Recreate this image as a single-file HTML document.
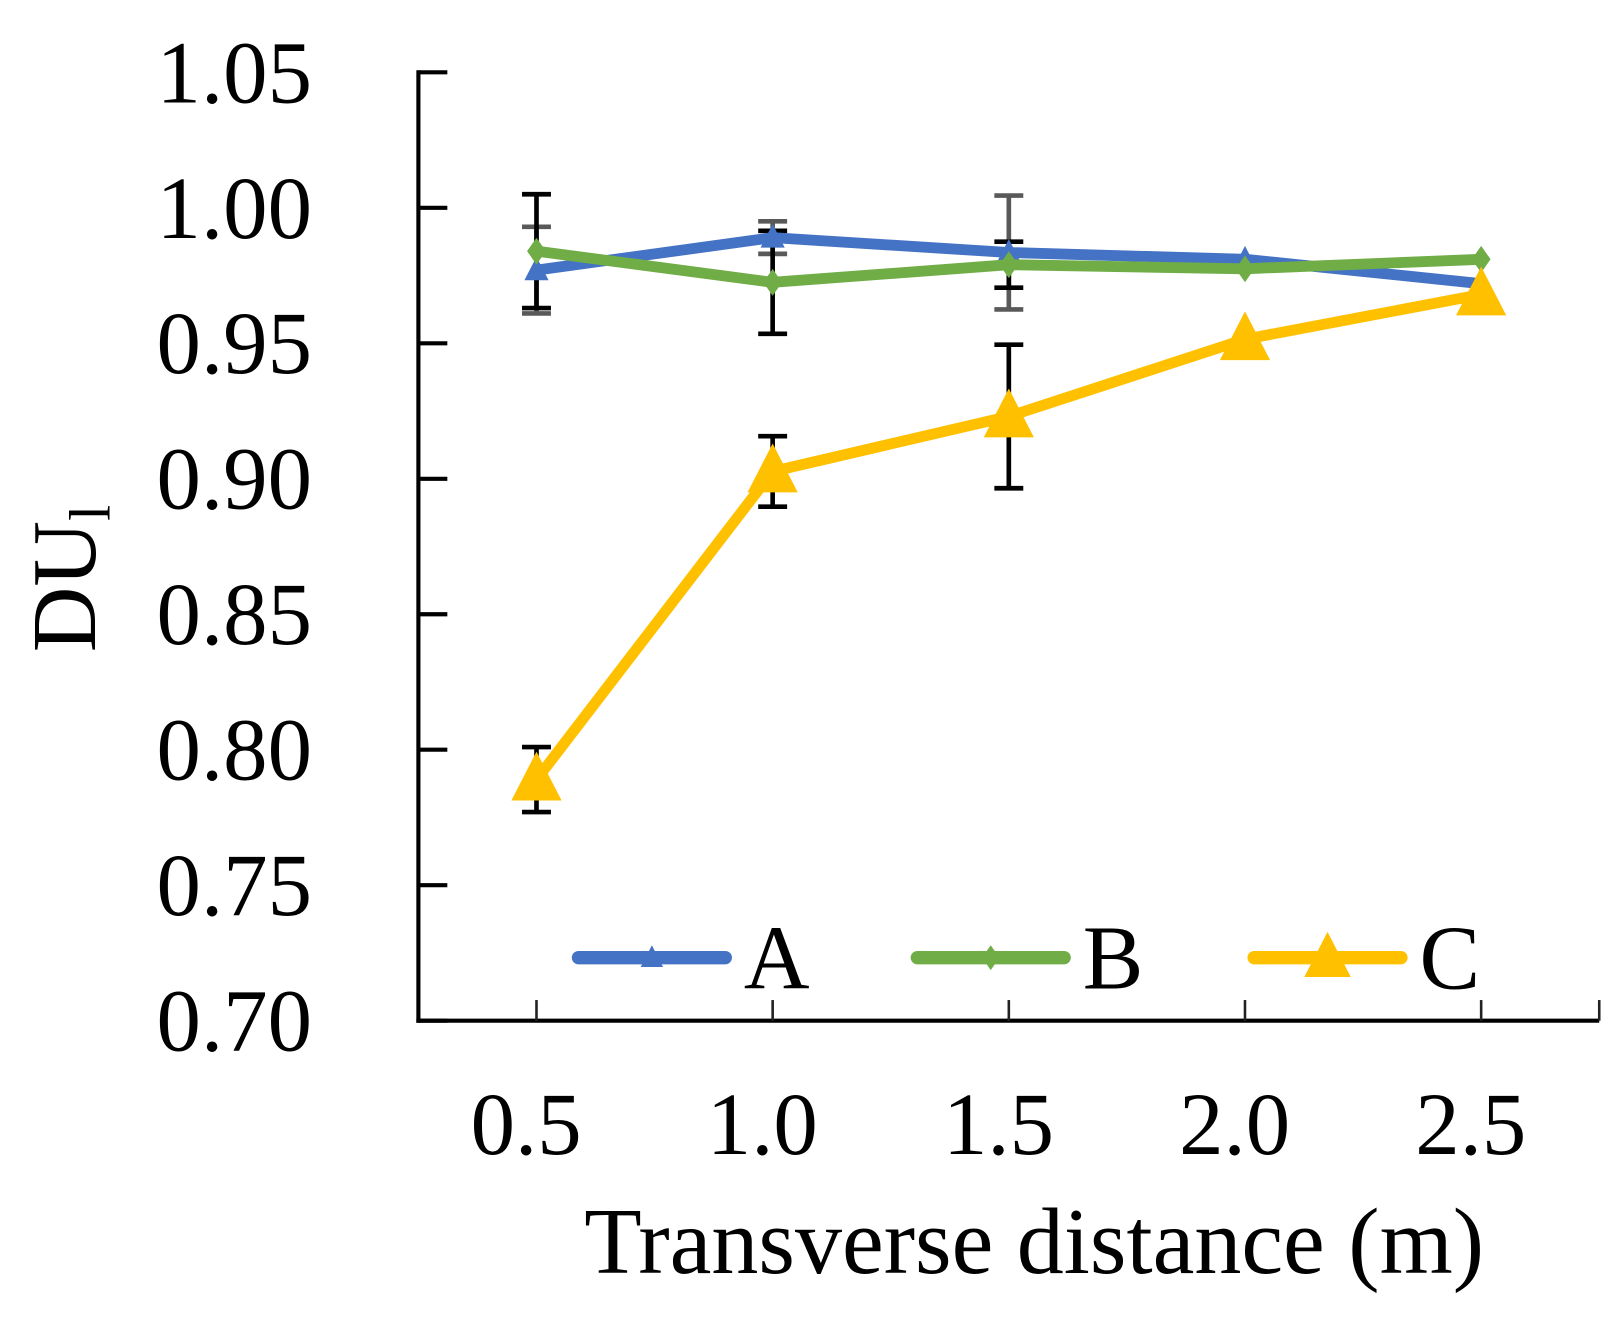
<!DOCTYPE html>
<html><head><meta charset="utf-8"><style>
html,body{margin:0;padding:0;background:#fff}
svg text{font-family:"Liberation Serif",serif;fill:#000}
</style></head><body>
<svg id="chart" width="1619" height="1312" viewBox="0 0 1619 1312" xmlns="http://www.w3.org/2000/svg">
<g transform="scale(1.0331)">
<g id="axes"></g><g id="errs"></g><g id="series"></g><g id="legend"></g>
</g>
</svg>
<script>
const categories = ["0.5","1.0","1.5","2.0","2.5"];
const yTicks = [0.70,0.75,0.80,0.85,0.90,0.95,1.00,1.05];
const seriesA = [0.977,0.989,0.9835,0.981,0.972];
const seriesB = [0.984,0.9725,0.979,0.9775,0.981];
const seriesC = [0.789,0.9027,0.923,0.9515,0.968];
const errA = [0.016,0.006,0.021,0,0];
const errB = [0.021,0.019,0.0085,0,0];
const errC = [0.012,0.013,0.0265,0,0];
const seriesNames = ["A","B","C"];

const NS="http://www.w3.org/2000/svg";
const x0=405,x1=1548,yTop=70,yBot=988,yMin=0.70,yMax=1.05;
const band=(x1-x0)/categories.length;
function xs(i){return x0+band*(i+0.5);}
function ys(v){return yBot-(v-yMin)/(yMax-yMin)*(yBot-yTop);}
function mk(tag,attrs,parent){const e=document.createElementNS(NS,tag);for(const k in attrs)e.setAttribute(k,attrs[k]);parent.appendChild(e);return e;}
const axes=document.getElementById('axes');
let e;
e=mk('line',{x1:x0,y1:yTop-2,x2:x0,y2:yBot+2,stroke:'#000','stroke-width':4},axes);


e=mk('line',{x1:x0-2,y1:yBot,x2:x1,y2:yBot,stroke:'#000','stroke-width':4},axes);


yTicks.forEach(t=>{
  const y=ys(t);
  e=mk('line',{x1:x0,y1:y,x2:x0+28,y2:y,stroke:'#000','stroke-width':4},axes);
  
  
  e=mk('text',{x:302,y:y+29,'text-anchor':'end','font-size':86},axes);
  e.textContent=t.toFixed(2);
  
  
});
categories.forEach((c,i)=>{
  const x=xs(i);
  e=mk('line',{x1:x,y1:yBot-20,x2:x,y2:yBot,stroke:'#222','stroke-width':2.5},axes);
  
  
  e=mk('text',{x:x-10,y:1117,'text-anchor':'middle','font-size':86},axes);
  e.textContent=c;
  
  
});
e=mk('line',{x1:x1,y1:yBot-20,x2:x1,y2:yBot,stroke:'#222','stroke-width':2.5},axes);


e=mk('text',{x:1001,y:1232,'text-anchor':'middle','font-size':91},axes);
e.textContent='Transverse distance (m)';


e=mk('text',{x:0,y:0,'text-anchor':'middle','font-size':88,transform:'translate(92,560) rotate(-90)'},axes);
e.innerHTML='DU<tspan font-size="56" dy="14">l</tspan>';



const errs=document.getElementById('errs');
function drawErr(vals,errsArr,color,name){
  vals.forEach((v,i)=>{
    if(!errsArr[i])return;
    const x=xs(i),t=ys(v+errsArr[i]),b=ys(v-errsArr[i]);
    const g=mk('g',{stroke:color,'stroke-width':4.5},errs);
    
    
    mk('line',{x1:x,y1:t,x2:x,y2:b},g);
    mk('line',{x1:x-14,y1:t,x2:x+14,y2:t},g);
    mk('line',{x1:x-14,y1:b,x2:x+14,y2:b},g);
  });
}
drawErr(seriesA,errA,'#595959','series-a');
drawErr(seriesB,errB,'#000','series-b');
drawErr(seriesC,errC,'#000','series-c');

const ser=document.getElementById('series');
function tri(x,y,s){return `${x},${y-s} ${x-s*0.9},${y+s*0.75} ${x+s*0.9},${y+s*0.75}`;}
function dia(x,y,s){return `${x},${y-s} ${x+s*0.7},${y} ${x},${y+s} ${x-s*0.7},${y}`;}
function drawSeries(vals,color,shape,size,name){
  const g=mk('g',{},ser);
  
  
  const pts=vals.map((v,i)=>xs(i)+','+ys(v)).join(' ');
  mk('polyline',{points:pts,fill:'none',stroke:color,'stroke-width':10.5,'stroke-linejoin':'round'},g);
  vals.forEach((v,i)=>{
    const p=shape==='tri'?tri(xs(i),ys(v),size):dia(xs(i),ys(v),size);
    const m=mk('polygon',{points:p,fill:color},g);
    
    
  });
}
drawSeries(seriesA,'#4472C4','tri',13,'series-a');
drawSeries(seriesB,'#70AD47','dia',13,'series-b');
drawSeries(seriesC,'#FFC000','tri',27,'series-c');

const leg=document.getElementById('legend');
const legItems=[[560,'#4472C4','tri',12],[888,'#70AD47','dia',12],[1214,'#FFC000','tri',25]];
legItems.forEach((it,i)=>{
  const g=mk('g',{},leg);
  
  
  const [lx,col,sh,s]=it,ly=927;
  mk('line',{x1:lx,y1:ly,x2:lx+142,y2:ly,stroke:col,'stroke-width':13,'stroke-linecap':'round'},g);
  mk('polygon',{points:sh==='tri'?tri(lx+71,ly,s):dia(lx+71,ly,s),fill:col},g);
  const t=mk('text',{x:lx+160,y:ly+30,'font-size':88},g);
  t.textContent=seriesNames[i];
});
</script>
</body></html>
